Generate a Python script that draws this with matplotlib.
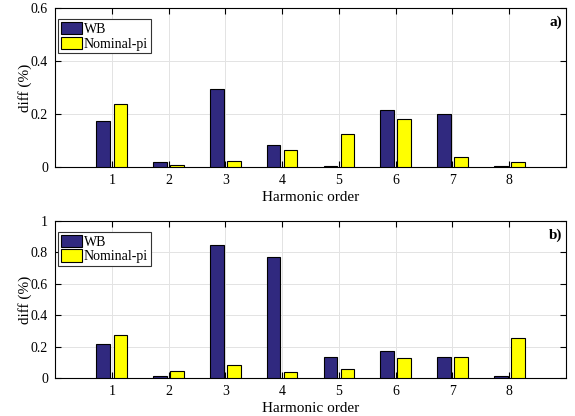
import numpy as np
import matplotlib
matplotlib.use('Agg')
import matplotlib.pyplot as plt

plt.rcParams['font.family'] = ['Liberation Serif', 'DejaVu Serif']
plt.rcParams['font.size'] = 10

orders = [1, 2, 3, 4, 5, 6, 7, 8]
series = ['WB', 'Nominal-pi']

# harmonic differences, case a)
wb_a = [0.175, 0.019, 0.293, 0.084, 0.003, 0.214, 0.201, 0.003]
pi_a = [0.239, 0.009, 0.023, 0.063, 0.123, 0.181, 0.037, 0.019]

# harmonic differences, case b)
wb_b = [0.219, 0.012, 0.850, 0.769, 0.137, 0.175, 0.137, 0.010]
pi_b = [0.275, 0.047, 0.083, 0.037, 0.055, 0.130, 0.137, 0.252]

navy = '#30297f'
yellow = '#ffff00'


def draw(ax, wb, npi, ymax, yticks, ytl, tag):
    x = np.array(orders)
    w = 0.24
    ax.bar(x - 0.15, wb, w, color=navy, edgecolor='black', linewidth=0.8,
           label=series[0], zorder=3)
    ax.bar(x + 0.15, npi, w, color=yellow, edgecolor='black', linewidth=0.8,
           label=series[1], zorder=3)
    ax.set_xlim(0, 9)
    ax.set_ylim(0, ymax)
    ax.set_xticks(orders)
    ax.set_yticks(yticks)
    ax.set_yticklabels(ytl)
    ax.grid(True, color='#e3e3e3', linewidth=0.7, zorder=0)
    ax.set_axisbelow(True)
    ax.tick_params(direction='in', top=True, right=True, length=4,
                   width=0.8, labelsize=10, pad=5)
    for s in ax.spines.values():
        s.set_linewidth(0.8)
    ax.set_xlabel('Harmonic order', fontsize=11, labelpad=3)
    ax.set_ylabel('diff (%)', fontsize=11, labelpad=-1)
    ax.text(0.993, 0.91, tag, transform=ax.transAxes, ha='right',
            va='center', fontweight='bold', fontsize=11)
    leg = ax.legend(loc='upper left', bbox_to_anchor=(0.006, 0.93),
                    borderaxespad=0, fancybox=False, edgecolor='#333333',
                    framealpha=1, handlelength=1.5, handleheight=1.0,
                    handletextpad=0.15, borderpad=0.2, labelspacing=0.05,
                    fontsize=10)
    leg.get_frame().set_linewidth(0.8)


fig = plt.figure(figsize=(5.75, 4.16), dpi=100)
ax1 = fig.add_axes([0.0957, 0.5986, 0.8887, 0.3822])
ax2 = fig.add_axes([0.0957, 0.0913, 0.8887, 0.3774])

draw(ax1, wb_a, pi_a, 0.6, [0, 0.2, 0.4, 0.6], ['0', '0.2', '0.4', '0.6'], 'a)')
draw(ax2, wb_b, pi_b, 1.0, [0, 0.2, 0.4, 0.6, 0.8, 1.0],
     ['0', '0.2', '0.4', '0.6', '0.8', '1'], 'b)')

fig.savefig('out.png', dpi=100)
